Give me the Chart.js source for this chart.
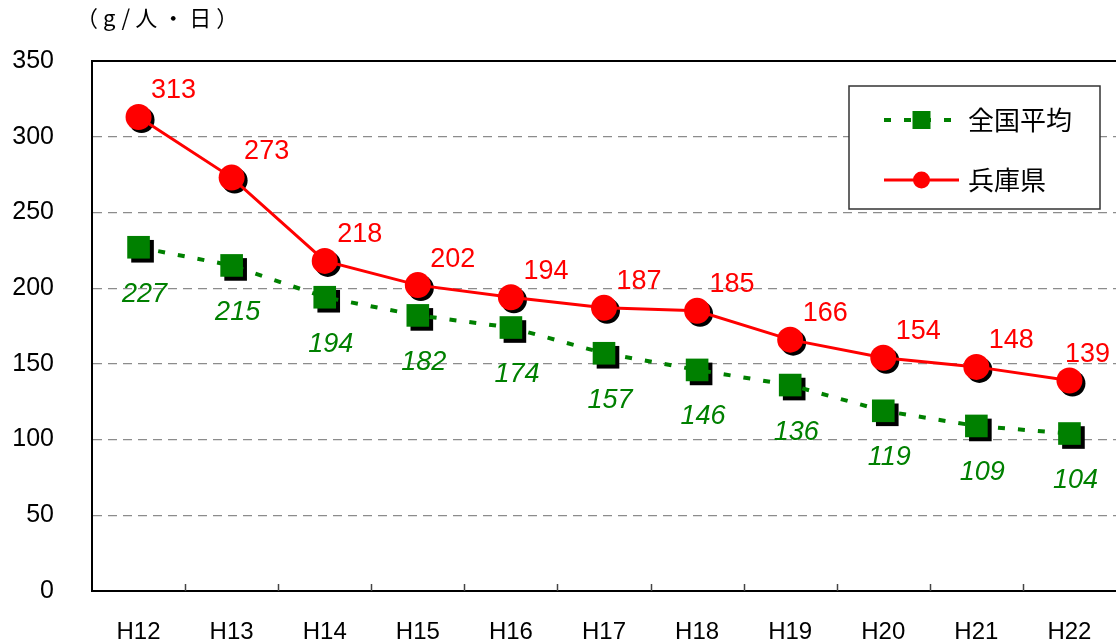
<!DOCTYPE html>
<html lang="ja">
<head>
<meta charset="utf-8">
<title>ごみ排出量の推移</title>
<script src="https://cdn.jsdelivr.net/npm/chart.js@4.4.1/dist/chart.umd.min.js"></script>
<style>
  html, body { margin: 0; padding: 0; background: #fff; }
  #wrap { position: relative; width: 1116px; height: 644px; }
  #unit {
    position: absolute; left: 76px; top: 0px;
    font: 22px "Noto Sans CJK JP", sans-serif;
    letter-spacing: 5px; color: #000;
  }
</style>
</head>
<body>
<div id="wrap">
  <canvas id="trendChart" width="1116" height="644"></canvas>
  <div id="unit"></div>
</div>
<script>
// ── Data ─────────────────────────────────────
const CATEGORIES    = ['H12', 'H13', 'H14', 'H15', 'H16', 'H17',
                       'H18', 'H19', 'H20', 'H21', 'H22'];
const NATIONAL_AVG  = [227, 215, 194, 182, 174, 157, 146, 136, 119, 109, 104];
const HYOGO         = [313, 273, 218, 202, 194, 187, 185, 166, 154, 148, 139];
const SERIES_NAMES  = ['全国平均', '兵庫県'];
const Y_MIN = 0, Y_MAX = 350, Y_STEP = 50;
const UNIT_LABEL    = '（g/人・日）';

const GREEN = '#008000';
const RED   = '#ff0000';
const LATIN = '"Liberation Sans", Arial, sans-serif';
const CJK   = '"Noto Sans CJK JP", sans-serif';

document.getElementById('unit').textContent = UNIT_LABEL;

// ── Shadows under markers ───────────────────
const markerShadow = {
  id: 'markerShadow',
  beforeDatasetDraw(chart, args) {
    const { ctx } = chart;
    const ds = chart.data.datasets[args.index];
    ctx.save();
    ctx.fillStyle = '#000';
    args.meta.data.forEach(pt => {
      const r = ds.pointRadius;
      ctx.beginPath();
      if (ds.pointStyle === 'rect') {
        const h = r * Math.SQRT1_2;
        ctx.rect(pt.x + 4 - h, pt.y + 4 - h, 2 * h, 2 * h);
      } else {
        ctx.arc(pt.x + 3, pt.y + 3, r, 0, Math.PI * 2);
      }
      ctx.fill();
    });
    ctx.restore();
  }
};

// ── Value labels (kept inside the canvas) ───
const valueLabels = {
  id: 'valueLabels',
  afterDatasetsDraw(chart) {
    const { ctx } = chart;
    ctx.save();
    ctx.textAlign = 'center';
    ctx.textBaseline = 'middle';
    chart.data.datasets.forEach((ds, i) => {
      const meta = chart.getDatasetMeta(i);
      const o = ds.labelOffset;
      ctx.fillStyle = ds.borderColor;
      ctx.font = `${ds.labelItalic ? 'italic ' : ''}27px ${LATIN}`;
      meta.data.forEach((pt, j) => {
        const txt = String(ds.data[j]);
        const half = ctx.measureText(txt).width / 2;
        const x = Math.min(pt.x + o.x, chart.width - 6 - half);
        ctx.fillText(txt, x, pt.y + o.y);
      });
    });
    ctx.restore();
  }
};

// ── Frame: top border + inward category ticks ─
const frame = {
  id: 'frame',
  afterDraw(chart) {
    const { ctx, chartArea: a } = chart;
    const x = chart.scales.x;
    ctx.save();
    ctx.strokeStyle = '#000';
    ctx.lineWidth = 2;
    ctx.beginPath();
    ctx.moveTo(a.left, a.top);
    ctx.lineTo(a.right, a.top);
    ctx.stroke();
    ctx.lineWidth = 1.5;
    ctx.strokeStyle = '#444';
    for (let i = 0; i < CATEGORIES.length - 1; i++) {
      const px = Math.round((x.getPixelForValue(i) + x.getPixelForValue(i + 1)) / 2) + 0.5;
      ctx.beginPath();
      ctx.moveTo(px, a.bottom);
      ctx.lineTo(px, a.bottom - 7);
      ctx.stroke();
    }
    ctx.restore();
  }
};

// ── Boxed legend inside the plot ────────────
const boxLegend = {
  id: 'boxLegend',
  afterDraw(chart) {
    const { ctx, chartArea: a } = chart;
    const w = 251, h = 123;
    const left = a.right - 267, top = a.top + 25;
    ctx.save();
    ctx.fillStyle = '#fff';
    ctx.fillRect(left, top, w, h);
    ctx.strokeStyle = '#333';
    ctx.lineWidth = 1.5;
    ctx.strokeRect(left, top, w, h);

    chart.data.datasets.forEach((ds, i) => {
      const cy = top + 34 + i * 60;
      const x0 = left + 35, x1 = left + 110;
      ctx.strokeStyle = ds.borderColor;
      ctx.lineWidth = ds.borderWidth;
      ctx.setLineDash(ds.borderDash || []);
      ctx.beginPath();
      ctx.moveTo(x0, cy);
      ctx.lineTo(x1, cy);
      ctx.stroke();
      ctx.setLineDash([]);
      ctx.fillStyle = ds.backgroundColor;
      const cx = (x0 + x1) / 2;
      ctx.beginPath();
      if (ds.pointStyle === 'rect') ctx.rect(cx - 9, cy - 9, 18, 18);
      else ctx.arc(cx, cy, 8.5, 0, Math.PI * 2);
      ctx.fill();
      ctx.fillStyle = '#000';
      ctx.font = `26px ${CJK}`;
      ctx.textBaseline = 'middle';
      ctx.textAlign = 'left';
      ctx.fillText(ds.label, left + 119, cy);
    });
    ctx.restore();
  }
};

// ── Chart ───────────────────────────────────
Chart.defaults.font.family = LATIN;
Chart.defaults.color = '#000';

new Chart(document.getElementById('trendChart'), {
  type: 'line',
  data: {
    labels: CATEGORIES,
    datasets: [
      {
        label: SERIES_NAMES[0],
        data: NATIONAL_AVG,
        borderColor: GREEN,
        backgroundColor: GREEN,
        borderWidth: 4,
        borderDash: [7, 13],
        pointStyle: 'rect',
        pointRadius: 16,
        pointBorderWidth: 0,
        tension: 0,
        labelOffset: { x: 6, y: 47 },
        labelItalic: true
      },
      {
        label: SERIES_NAMES[1],
        data: HYOGO,
        borderColor: RED,
        backgroundColor: RED,
        borderWidth: 3,
        pointStyle: 'circle',
        pointRadius: 13,
        pointBorderWidth: 0,
        tension: 0,
        labelOffset: { x: 35, y: -26 },
        labelItalic: false
      }
    ]
  },
  options: {
    responsive: false,
    animation: false,
    layout: { autoPadding: false, padding: { top: 61, right: 0, left: 0, bottom: 0 } },
    plugins: {
      legend: { display: false },
      tooltip: { enabled: false }
    },
    scales: {
      x: {
        offset: true,
        grid: { display: false },
        border: { display: true, color: '#000', width: 2 },
        ticks: { font: { size: 24 }, padding: 19, color: '#000' },
        afterFit(s) { s.height = 53; s.paddingLeft = 0; s.paddingRight = 0; }
      },
      y: {
        min: Y_MIN,
        max: Y_MAX,
        ticks: { stepSize: Y_STEP, font: { size: 25 }, padding: 38, color: '#000' },
        grid: {
          drawTicks: false,
          lineWidth: 1.2,
          color: c => (c.tick && (c.tick.value === Y_MIN || c.tick.value === Y_MAX)) ? 'rgba(0,0,0,0)' : '#8c8c8c'
        },
        border: { display: true, color: '#000', width: 2, dash: [9, 6] },
        afterFit(s) { s.width = 92; s.paddingTop = 0; s.paddingBottom = 0; }
      }
    }
  },
  plugins: [markerShadow, valueLabels, frame, boxLegend]
});
</script>
</body>
</html>
